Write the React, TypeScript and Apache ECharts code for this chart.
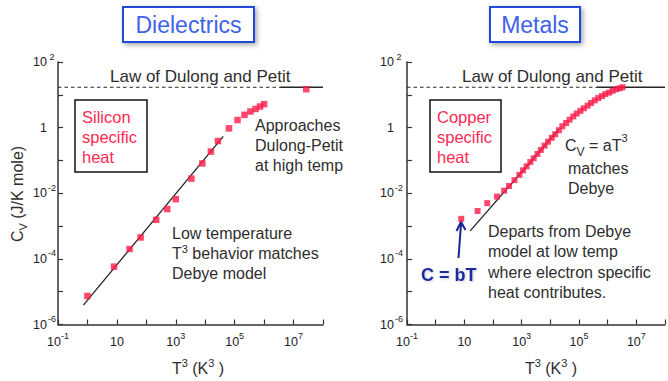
import { useEffect, useRef } from 'react';
import * as echarts from 'echarts';

const FONT = '"Liberation Sans", Arial, Helvetica, sans-serif';

// Silicon: measured specific heat vs T^3
const siliconT3 = [1, 8, 27, 64, 216, 512, 1000, 3400, 8000, 15600, 27000, 64000, 125000, 216000, 343000, 512000, 729000, 1000000, 27000000];
const siliconCv = [7.4e-6, 5.8e-5, 2.0e-4, 4.5e-4, 1.55e-3, 3.3e-3, 6.6e-3, 0.028, 0.081, 0.186, 0.39, 0.95, 1.7, 2.45, 3.1, 3.7, 4.4, 5.2, 14.8];
// Debye T^3 law through the silicon data
const siliconDebyeT3 = [0.73, 41000];
const siliconDebyeCv = [3.9e-6, 0.54];

// Copper: measured specific heat vs T^3
const copperT3 = [7.8, 29, 63, 138, 245, 363, 562, 832, 1120, 1480, 2000, 2630, 3550, 4680, 6310, 8320, 11200, 14800, 20000, 26300, 35500, 46800, 63100, 83200, 112000, 148000, 200000, 263000, 355000, 468000, 631000, 832000, 1120000, 1480000, 2000000, 2630000, 3310000];
const copperCv = [1.66e-3, 2.88e-3, 5.0e-3, 7.9e-3, 0.012, 0.0166, 0.0251, 0.0363, 0.0501, 0.0661, 0.0891, 0.117, 0.158, 0.209, 0.282, 0.372, 0.49, 0.631, 0.832, 1.1, 1.38, 1.74, 2.19, 2.69, 3.24, 3.89, 4.68, 5.62, 6.76, 7.94, 9.12, 10.5, 11.7, 13.2, 14.8, 15.8, 17.0];
// Debye T^3 law through the copper data
const copperDebyeT3 = [16, 20000];
const copperDebyeCv = [7.1e-4, 0.89];

// Law of Dulong and Petit (high temperature limit)
const dulongPetitCv = 17;
const siliconDulongDashedT3 = [0.1, 3.5e6];
const siliconDulongSolidT3 = [3.5e6, 1e8];
const copperDulongDashedT3 = [0.1, 4e5];
const copperDulongSolidT3 = [4e5, 1e8];

// Axis extents (decades)
const xExtent = [0.1, 1e8];
const yExtent = [1e-6, 100];

const pairs = (xs: number[], ys: number[]) => xs.map((x, i) => [x, ys[i]]);
const flat = (xs: number[], y: number) => xs.map((x) => [x, y]);
const expOf = (v: number) => Math.round(Math.log10(v));

const AXIS_COLOR = '#333';
const TEXT = '#2e2e2e';
const RED = '#ff2a52';
const POINT = '#ff1a4a';

const xAxis = (gridIndex: number) => ({
  type: 'log',
  logBase: 10,
  gridIndex,
  min: xExtent[0],
  max: xExtent[1],
  splitNumber: 9,
  axisLine: { lineStyle: { color: AXIS_COLOR, width: 1.5 } },
  axisTick: { inside: true, length: 5, lineStyle: { color: AXIS_COLOR, width: 1.2 } },
  splitLine: { show: false },
  axisLabel: {
    margin: 7,
    color: '#222',
    fontFamily: FONT,
    formatter: (v: number) => {
      const e = expOf(v);
      if (Math.abs(e % 2) !== 1) return '';
      return e === 1 ? '{b|10}' : `{b|10}{s|${e}}`;
    },
    rich: {
      b: { fontSize: 12.5, lineHeight: 20, fontFamily: FONT, color: '#222' },
      s: { fontSize: 9, lineHeight: 9, verticalAlign: 'top', fontFamily: FONT, color: '#222' },
    },
  },
});

const yAxis = (gridIndex: number, margin: number) => ({
  type: 'log',
  logBase: 10,
  gridIndex,
  min: yExtent[0],
  max: yExtent[1],
  splitNumber: 8,
  axisLine: { lineStyle: { color: AXIS_COLOR, width: 1.5 } },
  axisTick: { inside: true, length: 5, lineStyle: { color: AXIS_COLOR, width: 1.2 } },
  splitLine: { show: false },
  axisLabel: {
    margin,
    color: '#222',
    fontFamily: FONT,
    formatter: (v: number) => {
      const e = expOf(v);
      if (Math.abs(e % 2) !== 0) return '';
      return e === 0 ? '{b|1}{s| }' : `{b|10}{s|${e}}`;
    },
    rich: {
      b: { fontSize: 12.5, lineHeight: 20, fontFamily: FONT, color: '#222' },
      s: { fontSize: 9, lineHeight: 8, width: 10, align: 'left', verticalAlign: 'top', fontFamily: FONT, color: '#222' },
    },
  },
});

const line = (data: number[][], idx: number, dashed = false) => ({
  type: 'line',
  xAxisIndex: idx,
  yAxisIndex: idx,
  data,
  symbol: 'none',
  silent: true,
  z: 2,
  lineStyle: { color: '#262626', width: dashed ? 1.1 : 1.3, type: dashed ? [3.5, 3] : 'solid' },
});

const scatter = (data: number[][], idx: number, size: number) => ({
  type: 'scatter',
  xAxisIndex: idx,
  yAxisIndex: idx,
  data,
  symbol: 'rect',
  symbolSize: size,
  z: 3,
  itemStyle: { color: POINT },
});

const plain = (x: number, y: number, text: string, extra: any = {}) => ({
  type: 'text',
  x,
  y,
  silent: true,
  style: {
    text,
    fontFamily: FONT,
    fontSize: 16,
    fill: TEXT,
    align: 'left',
    verticalAlign: 'top',
    lineHeight: 20,
    ...extra,
  },
});

const baseRich = (size: number, lh: number, fill = TEXT) => ({ fontSize: size, lineHeight: lh, fontFamily: FONT, fill });

const titleBox = (x: number, w: number, label: string) => [
  {
    type: 'rect',
    silent: true,
    shape: { x, y: 7, width: w, height: 35 },
    style: {
      fill: '#fff',
      stroke: '#2448d8',
      lineWidth: 2,
      shadowBlur: 5,
      shadowColor: 'rgba(0,0,0,0.35)',
      shadowOffsetX: 2,
      shadowOffsetY: 2,
    },
  },
  {
    type: 'text',
    silent: true,
    x: x + w / 2,
    y: 25,
    style: {
      text: label,
      fontFamily: FONT,
      fontSize: 23,
      fill: '#4062ea',
      align: 'center',
      verticalAlign: 'middle',
    },
  },
];

const labelBox = (x: number, w: number, lines: string) => [
  {
    type: 'rect',
    silent: true,
    shape: { x, y: 100, width: w, height: 72 },
    style: { fill: '#fff', stroke: '#111', lineWidth: 1.5 },
  },
  plain(x + 7, 107, lines, { fill: RED, fontSize: 16.5 }),
];

const axisTitle = (cx: number) => ({
  type: 'text',
  silent: true,
  x: cx,
  y: 368,
  style: {
    text: '{a|T}{s|3}{a| (K}{s|3}{a| )}',
    align: 'center',
    verticalAlign: 'middle',
    rich: {
      a: baseRich(16, 22),
      s: { ...baseRich(11, 10), verticalAlign: 'top' },
    },
  },
});

const option = {
  animation: false,
  backgroundColor: '#fff',
  textStyle: { fontFamily: FONT },
  grid: [
    { left: 58, top: 62, width: 265, height: 262.5 },
    { left: 407, top: 62, width: 264.6, height: 262.5 },
  ],
  xAxis: [xAxis(0), xAxis(1)],
  yAxis: [yAxis(0, 1), yAxis(1, 3)],
  series: [
    line(flat(siliconDulongDashedT3, dulongPetitCv), 0, true),
    line(flat(siliconDulongSolidT3, dulongPetitCv), 0),
    line(pairs(siliconDebyeT3, siliconDebyeCv), 0),
    scatter(pairs(siliconT3, siliconCv), 0, 6.5),
    line(flat(copperDulongDashedT3, dulongPetitCv), 1, true),
    line(flat(copperDulongSolidT3, dulongPetitCv), 1),
    line(pairs(copperDebyeT3, copperDebyeCv), 1),
    scatter(pairs(copperT3, copperCv), 1, 6),
  ],
  graphic: [
    ...titleBox(123, 131, 'Dielectrics'),
    ...titleBox(490, 90, 'Metals'),
    plain(110, 76, 'Law of Dulong and Petit', { fontSize: 17, verticalAlign: 'middle' }),
    plain(462, 76, 'Law of Dulong and Petit', { fontSize: 17, verticalAlign: 'middle' }),
    ...labelBox(75, 72, 'Silicon\nspecific\nheat'),
    ...labelBox(430, 71, 'Copper\nspecific\nheat'),
    plain(255, 115, 'Approaches\nDulong-Petit\nat high temp'),
    {
      type: 'text',
      silent: true,
      x: 172,
      y: 223,
      style: {
        text: '{a|Low temperature}\n{a|T}{s|3}{a| behavior matches}\n{a|Debye model}',
        align: 'left',
        verticalAlign: 'top',
        rich: {
          a: baseRich(16, 20),
          s: { ...baseRich(11, 9), verticalAlign: 'top' },
        },
      },
    },
    {
      type: 'text',
      silent: true,
      x: 565,
      y: 145,
      style: {
        text: '{a|C}{sub|V}{a| = aT}{sup|3}',
        align: 'left',
        verticalAlign: 'middle',
        rich: {
          a: baseRich(16, 26),
          sub: { ...baseRich(12, 12), verticalAlign: 'bottom' },
          sup: { ...baseRich(11, 16), verticalAlign: 'top' },
        },
      },
    },
    plain(568, 158, 'matches\nDebye'),
    plain(488, 221, 'Departs from Debye\nmodel at low temp\nwhere electron specific\nheat contributes.', { lineHeight: 20.4 }),
    {
      type: 'text',
      silent: true,
      x: 421,
      y: 275,
      style: {
        text: 'C = bT',
        fontFamily: FONT,
        fontSize: 18,
        fontWeight: 'bold',
        fill: '#1c2a9e',
        align: 'left',
        verticalAlign: 'middle',
        textShadowColor: 'rgba(0,0,0,0.2)',
        textShadowBlur: 3,
        textShadowOffsetX: 1,
        textShadowOffsetY: 1,
      },
    },
    {
      type: 'line',
      silent: true,
      shape: { x1: 458.5, y1: 258, x2: 461, y2: 224 },
      style: { stroke: '#1a2399', lineWidth: 2 },
    },
    {
      type: 'polyline',
      silent: true,
      shape: { points: [[456.5, 231], [461, 222], [465.5, 230]] },
      style: { stroke: '#1a2399', lineWidth: 2, fill: 'none' },
    },
    axisTitle(198),
    axisTitle(551),
    {
      type: 'text',
      silent: true,
      x: 17,
      y: 194,
      rotation: Math.PI / 2,
      style: {
        text: '{a|C}{sub|V}{a| (J/K mole)}',
        align: 'center',
        verticalAlign: 'middle',
        rich: {
          a: baseRich(16, 22),
          sub: { ...baseRich(11, 12), verticalAlign: 'bottom' },
        },
      },
    },
  ],
};

export default function App() {
  const ref = useRef<HTMLDivElement>(null);
  useEffect(() => {
    const chart = echarts.init(ref.current!, null, { renderer: 'svg' });
    chart.setOption(option as any);
    return () => chart.dispose();
  }, []);
  return (
    <div
      ref={ref}
      style={{ position: 'absolute', left: 0, top: 0, width: 668, height: 381, background: '#fff' }}
    />
  );
}
